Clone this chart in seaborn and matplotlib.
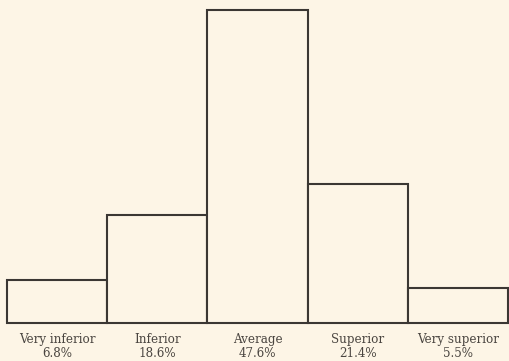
import matplotlib
matplotlib.use("Agg")
import matplotlib.pyplot as plt
import matplotlib.transforms as mtransforms
import seaborn as sns

# categories, labelled percentages and the bar heights as drawn in the figure
categories = ['Very inferior', 'Inferior', 'Average', 'Superior', 'Very superior']
pct_labels = ['6.8%', '18.6%', '47.6%', '21.4%', '5.5%']
heights = [6.6, 16.4, 47.6, 21.1, 5.3]

paper = '#fdf5e6'
ink = '#3b3733'
txt = '#4a4540'

sns.set_style('white')
plt.rcParams['font.family'] = ['DejaVu Serif']

fig = plt.figure(figsize=(5.09, 3.61), dpi=100, facecolor=paper)
ax = fig.add_axes([7 / 509, 38 / 361, 501 / 509, 313 / 361])
ax.set_facecolor(paper)

sns.barplot(x=categories, y=heights, width=1.0, color=paper, edgecolor=ink,
            linewidth=1.5, saturation=1, ax=ax)
for p in ax.patches:
    p.set_clip_on(False)

ax.set_xlim(-0.5, 4.5)
ax.set_ylim(0, 47.6)
ax.set_yticks([])
ax.set_xticks([])
ax.set_ylabel('')
ax.set_xlabel('')
sns.despine(ax=ax, left=True, bottom=True, top=True, right=True)

# two-line labels under each bar, at fixed heights
trans = mtransforms.blended_transform_factory(ax.transData, fig.transFigure)
for i, (c, p) in enumerate(zip(categories, pct_labels)):
    ax.text(i, 1 - 338 / 361, c, transform=trans, ha='center', va='center_baseline',
            fontsize=8.6, color=txt, fontweight='medium')
    ax.text(i, 1 - 352 / 361, p, transform=trans, ha='center', va='center_baseline',
            fontsize=8.6, color=txt, fontweight='medium')

fig.savefig('out.png', dpi=100, facecolor=paper)
